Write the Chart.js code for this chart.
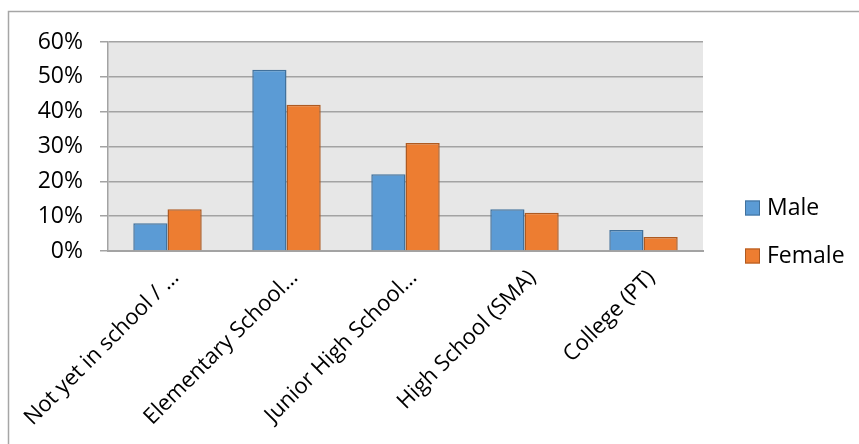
<!DOCTYPE html>
<html>
<head>
<meta charset="utf-8">
<script src="https://cdn.jsdelivr.net/npm/chart.js@4"></script>
<style>
  html, body { margin: 0; padding: 0; background: #ffffff; }
  #wrap { width: 859px; height: 444px; }
</style>
</head>
<body>
<div id="wrap"><canvas id="chart" width="859" height="444"></canvas></div>
<script>
// Education level by gender (share of respondents, %)
const categories = [
  'Not yet in school / \u2026',
  'Elementary School\u2026',
  'Junior High School\u2026',
  'High School (SMA)',
  'College (PT)'
];
const maleValues = [8, 52, 22, 12, 6];
const femaleValues = [12, 42, 31, 11, 4];
const seriesNames = ['Male', 'Female'];
const yTicks = [0, 10, 20, 30, 40, 50, 60];

const FONT = '"Open Sans", Lato, sans-serif';
const FONT_SIZE = 23;
const GRID = '#a3a3a3';

// Light gray plot background, outer frame and side legend
const decor = {
  id: 'decor',
  beforeDraw(chart) {
    const { ctx, chartArea: a } = chart;
    ctx.save();
    ctx.fillStyle = '#ffffff';
    ctx.fillRect(0, 0, chart.width, chart.height);
    ctx.fillStyle = '#e7e7e7';
    ctx.fillRect(a.left, a.top, a.right - a.left, a.bottom - a.top);
    ctx.strokeStyle = '#a6a6a6';
    ctx.lineWidth = 1.5;
    ctx.strokeRect(8.5, 11.5, chart.width + 20, chart.height + 20);
    ctx.restore();
  },
  afterDraw(chart) {
    const { ctx } = chart;
    ctx.save();
    ctx.font = FONT_SIZE + 'px ' + FONT;
    ctx.textBaseline = 'middle';
    ctx.textAlign = 'left';
    chart.data.datasets.forEach((ds, i) => {
      const cy = 208 + i * 48;
      ctx.fillStyle = ds.backgroundColor;
      ctx.fillRect(745, cy - 7.5, 15, 15);
      ctx.strokeStyle = ds.borderColor;
      ctx.lineWidth = 1;
      ctx.strokeRect(745.5, cy - 7, 14, 14);
      ctx.fillStyle = '#000000';
      ctx.fillText(ds.label, 767, cy);
    });
    ctx.restore();
  }
};

new Chart(document.getElementById('chart'), {
  type: 'bar',
  data: {
    labels: categories,
    datasets: [
      {
        label: seriesNames[0],
        data: maleValues,
        backgroundColor: '#5b9bd5',
        borderColor: '#41719c',
        borderWidth: 1.5,
        borderSkipped: 'bottom'
      },
      {
        label: seriesNames[1],
        data: femaleValues,
        backgroundColor: '#ed7d31',
        borderColor: '#ae5a21',
        borderWidth: 1.5,
        borderSkipped: 'bottom'
      }
    ]
  },
  options: {
    responsive: false,
    animation: false,
    devicePixelRatio: 1,
    layout: { padding: { left: 0, top: 42, right: 156, bottom: 0 } },
    datasets: { bar: { categoryPercentage: 0.575, barPercentage: 1.0 } },
    plugins: {
      legend: { display: false },
      tooltip: { enabled: false }
    },
    scales: {
      x: {
        grid: { display: false, drawTicks: false },
        border: { display: true, color: GRID, width: 2 },
        ticks: {
          autoSkip: false,
          minRotation: 45,
          maxRotation: 45,
          padding: 14,
          labelOffset: 8,
          color: '#000000',
          font: { family: FONT, size: 22 }
        },
        afterFit(scale) {
          // keep the plot area fixed; rotated labels may hang past the left edge
          scale.height = 193;
          scale.paddingLeft = 0;
          scale.paddingRight = 0;
        }
      },
      y: {
        min: 0,
        max: 60,
        afterBuildTicks(scale) { scale.ticks = yTicks.map(v => ({ value: v })); },
        grid: { color: GRID, lineWidth: 1.5, tickLength: 8, drawTicks: true },
        border: { display: true, color: GRID, width: 1.5 },
        ticks: {
          padding: 17,
          color: '#000000',
          font: { family: FONT, size: FONT_SIZE },
          callback: v => v + '%'
        },
        afterFit(scale) { scale.width = 108; }
      }
    }
  },
  plugins: [decor]
});
</script>
</body>
</html>
